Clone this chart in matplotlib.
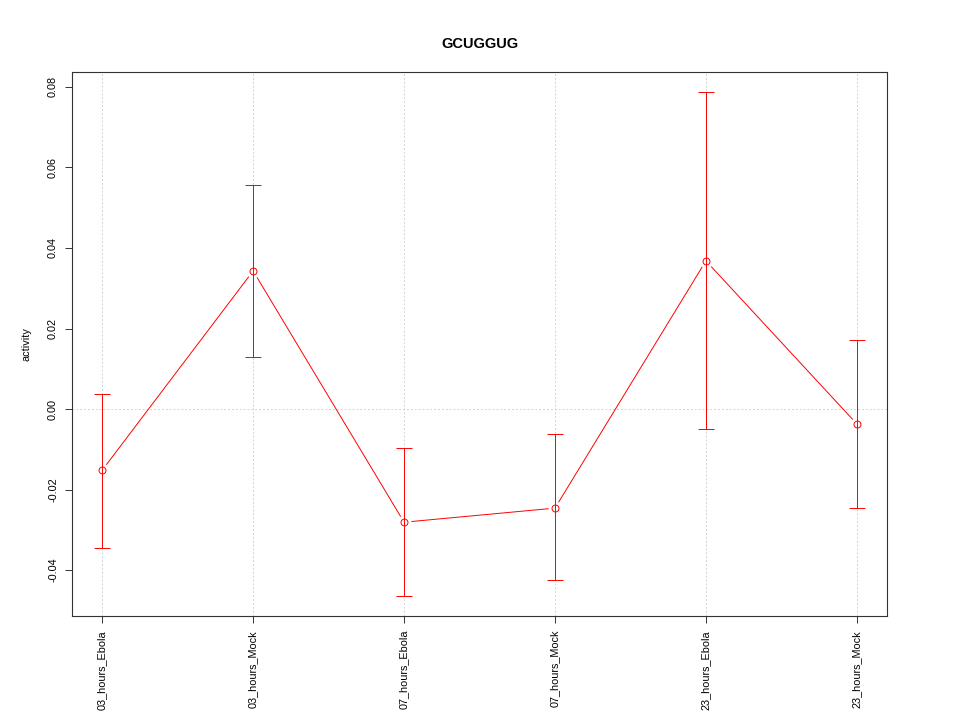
import numpy as np
import matplotlib.pyplot as plt

plt.rcParams['font.family'] = ['Liberation Sans', 'DejaVu Sans']

# values
labels = ['03_hours_Ebola', '03_hours_Mock', '07_hours_Ebola',
          '07_hours_Mock', '23_hours_Ebola', '23_hours_Mock']
activity = [-0.0152, 0.0343, -0.0281, -0.0246, 0.0368, -0.0037]
upper = [0.0037, 0.0557, -0.0097, -0.0062, 0.0788, 0.0171]
lower = [-0.0345, 0.0129, -0.0465, -0.0425, -0.0050, -0.0246]

x = np.arange(1, len(labels) + 1)
act = np.array(activity)
err = [act - np.array(lower), np.array(upper) - act]

fig = plt.figure(figsize=(9.6, 7.2), dpi=100)
ax = fig.add_axes([0.075, 0.1444, 0.849, 0.7556])

# grid like R's grid()
for xi in x:
    ax.axvline(xi, color='#d3d3d3', lw=0.7, ls=(0, (2, 2)), zorder=0)
ax.axhline(0, color='#d3d3d3', lw=0.7, ls=(0, (2, 2)), zorder=0)

# connecting line with small gaps at points (type="b")
ax.plot(x, act, color='red', lw=0.7, zorder=2)
ax.plot(x, act, 'o', ms=9, mfc='white', mec='white', zorder=3)
ax.errorbar(x, act, yerr=err, fmt='none', ecolor='red', elinewidth=0.7,
            capsize=5.5, capthick=0.7, zorder=4)
ax.plot(x, act, 'o', ms=5, mfc='none', mec='red', mew=0.7, zorder=5)

ax.set_xlim(0.8, 6.2)
ax.set_ylim(-0.0514, 0.0837)
ax.set_xticks(x)
ax.set_xticklabels(labels, rotation=90, fontsize=7.8)
ax.set_yticks([-0.04, -0.02, 0.0, 0.02, 0.04, 0.06, 0.08])
ax.set_yticklabels(['-0.04', '-0.02', '0.00', '0.02', '0.04', '0.06', '0.08'],
                   rotation=90, va='center', fontsize=7.8)
ax.set_ylabel('activity', fontsize=7.8, labelpad=12)
ax.set_title('GCUGGUG', fontsize=10.5, fontweight='bold', pad=17)
ax.tick_params(length=5, width=0.7, color='#333333', pad=5)
for s in ax.spines.values():
    s.set_linewidth(0.8)
    s.set_color('#333333')

plt.savefig('out.png', dpi=100)
